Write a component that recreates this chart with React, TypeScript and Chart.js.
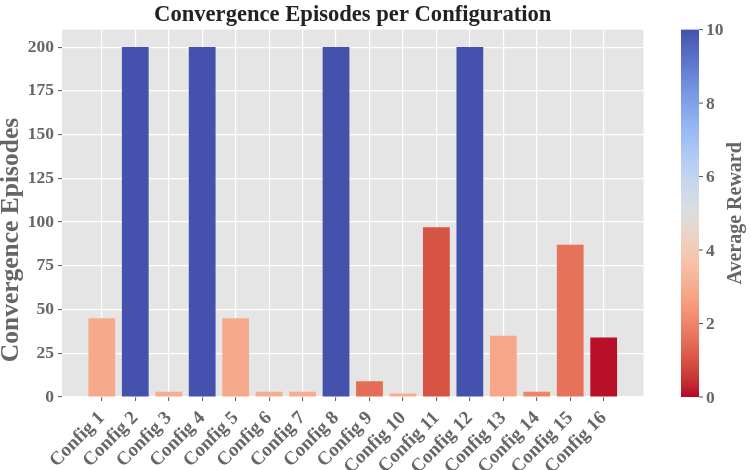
import React, { useEffect, useRef } from "react";
import { Chart, registerables } from "chart.js";

Chart.register(...registerables);

// ---- data ----
const configs = [
  "Config 1", "Config 2", "Config 3", "Config 4", "Config 5", "Config 6", "Config 7", "Config 8",
  "Config 9", "Config 10", "Config 11", "Config 12", "Config 13", "Config 14", "Config 15", "Config 16",
];
const convergenceEpisodes = [45, 200, 3, 200, 45, 3, 3, 200, 9, 2, 97, 200, 35, 3, 87, 34];
const averageRewards = [2.9, 10, 3.0, 10, 2.9, 3.0, 3.0, 10, 1.5, 3.0, 1.0, 10, 2.8, 2.0, 1.6, 0.1];
const yTicks = [0, 25, 50, 75, 100, 125, 150, 175, 200];
const colorbarTicks = [0, 2, 4, 6, 8, 10];
const rewardMin = 0;
const rewardMax = 10;

const TITLE = "Convergence Episodes per Configuration";
const Y_TITLE = "Convergence Episodes";
const CB_TITLE = "Average Reward";

// ---- style ----
const FONT = "'Liberation Serif', 'Times New Roman', serif";
const TEXT_GRAY = "#666666";

// coolwarm (Moreland) table, s from 0 (blue) to 1 (red)
const COOLWARM: number[][] = [
  [59, 76, 192], [68, 90, 204], [77, 104, 215], [87, 117, 225], [98, 130, 234], [108, 142, 241],
  [119, 154, 247], [130, 165, 251], [141, 176, 254], [152, 185, 255], [163, 194, 255], [174, 201, 253],
  [184, 208, 249], [194, 213, 244], [204, 217, 238], [213, 219, 230], [221, 221, 221], [229, 216, 209],
  [236, 211, 197], [241, 204, 184], [245, 196, 173], [247, 187, 160], [247, 177, 148], [247, 166, 135],
  [244, 154, 123], [241, 141, 111], [236, 127, 99], [229, 112, 88], [222, 96, 77], [213, 80, 66],
  [203, 62, 56], [192, 40, 47], [180, 4, 38],
];

function cmap(r: number): string {
  // reversed coolwarm: low reward -> red, high reward -> blue
  const s = Math.min(1, Math.max(0, 1 - (r - rewardMin) / (rewardMax - rewardMin)));
  const pos = s * (COOLWARM.length - 1);
  const i = Math.min(COOLWARM.length - 2, Math.floor(pos));
  const f = pos - i;
  const a = COOLWARM[i];
  const b = COOLWARM[i + 1];
  let c = [0, 1, 2].map((k) => a[k] + (b[k] - a[k]) * f);
  // muted blue side to match the reference rendering
  if (s < 0.5) {
    const w = (0.5 - s) / 0.5;
    const g = (c[0] + c[1] + c[2]) / 3;
    const d = 0.18 * w;
    c = [c[0] + (g - c[0]) * d, c[1] + (g - c[1]) * d, c[2] * (1 - 0.1 * w)];
  }
  return `rgb(${Math.round(c[0])},${Math.round(c[1])},${Math.round(c[2])})`;
}

const yTitlePlugin = {
  id: "yTitlePlugin",
  afterDraw(chart: any) {
    const ctx = chart.ctx as CanvasRenderingContext2D;
    ctx.save();
    ctx.translate(11, 240);
    ctx.rotate(-Math.PI / 2);
    ctx.textAlign = "center";
    ctx.textBaseline = "middle";
    ctx.fillStyle = TEXT_GRAY;
    ctx.font = `bold 25.5px ${FONT}`;
    ctx.fillText(Y_TITLE, 0, 0);
    ctx.restore();
  },
};

const colorbarPlugin = {
  id: "colorbarPlugin",
  afterDraw(chart: any) {
    const ctx = chart.ctx as CanvasRenderingContext2D;
    const { top, bottom } = chart.chartArea;
    const x0 = 681;
    const w = 18;
    ctx.save();
    const grad = ctx.createLinearGradient(0, bottom, 0, top);
    const n = 40;
    for (let i = 0; i <= n; i++) {
      const r = rewardMin + (i / n) * (rewardMax - rewardMin);
      grad.addColorStop(i / n, cmap(r));
    }
    ctx.fillStyle = grad;
    ctx.fillRect(x0, top, w, bottom - top);

    ctx.strokeStyle = "#555555";
    ctx.lineWidth = 1;
    ctx.fillStyle = TEXT_GRAY;
    ctx.font = `bold 17.5px ${FONT}`;
    ctx.textAlign = "left";
    ctx.textBaseline = "middle";
    colorbarTicks.forEach((t) => {
      const y = bottom - ((t - rewardMin) / (rewardMax - rewardMin)) * (bottom - top);
      ctx.beginPath();
      ctx.moveTo(x0 + w, y);
      ctx.lineTo(x0 + w + 4, y);
      ctx.stroke();
      ctx.fillText(String(t), x0 + w + 7, y + 1);
    });

    ctx.translate(736, (top + bottom) / 2);
    ctx.rotate(-Math.PI / 2);
    ctx.textAlign = "center";
    ctx.textBaseline = "middle";
    ctx.font = `bold 20px ${FONT}`;
    ctx.fillText(CB_TITLE, 0, 0);
    ctx.restore();
  },
};

export default function App() {
  const canvasRef = useRef<HTMLCanvasElement | null>(null);

  useEffect(() => {
    const canvas = canvasRef.current;
    if (!canvas) return;
    const chart = new Chart(canvas, {
      type: "bar",
      data: {
        datasets: [
          {
            data: convergenceEpisodes.map((v, i) => ({ x: i, y: v })),
            backgroundColor: averageRewards.map((r) => cmap(r)),
            borderWidth: 0,
            categoryPercentage: 1,
            barPercentage: 0.8,
          },
        ],
      },
      options: {
        animation: false,
        responsive: false,
        devicePixelRatio: 1,
        layout: { padding: { left: 0, right: 107.5, top: 0, bottom: 0 } },
        plugins: {
          legend: { display: false },
          tooltip: { enabled: false },
          title: {
            display: true,
            text: TITLE,
            fullSize: false,
            color: "#222222",
            font: { family: FONT, size: 22.6, weight: "bold", lineHeight: 1.2 },
            padding: { top: 1.5, bottom: 1 },
          },
        },
        scales: {
          x: {
            type: "linear",
            min: -1.19,
            max: 16.19,
            offset: false,
            grid: {
              offset: false,
              color: "#ffffff",
              lineWidth: 1.2,
              drawTicks: true,
              tickLength: 4,
              tickColor: "#555555",
              tickWidth: 1,
            },
            border: { display: false },
            afterBuildTicks: (axis: any) => {
              axis.ticks = configs.map((_, i) => ({ value: i }));
            },
            afterFit: (scale: any) => {
              scale.height = 73;
            },
            ticks: {
              autoSkip: false,
              minRotation: 45,
              maxRotation: 45,
              padding: 6,
              color: TEXT_GRAY,
              font: { family: FONT, size: 19, weight: "bold" },
              callback: (v: any) => configs[Math.round(Number(v))] ?? "",
            },
          },
          y: {
            min: 0,
            max: 210,
            grid: {
              color: "#ffffff",
              lineWidth: 1.2,
              drawTicks: true,
              tickLength: 4,
              tickColor: "#555555",
              tickWidth: 1,
            },
            border: { display: false },
            afterBuildTicks: (axis: any) => {
              axis.ticks = yTicks.map((v) => ({ value: v }));
            },
            afterFit: (scale: any) => {
              scale.width = 62;
            },
            ticks: {
              padding: 4,
              color: TEXT_GRAY,
              font: { family: FONT, size: 17.5, weight: "bold" },
            },
            title: { display: false, text: Y_TITLE },
          },
        },
      },
      plugins: [
        {
          id: "bgPlugin",
          beforeDraw(c: any) {
            const { left, top, width, height } = c.chartArea;
            const ctx = c.ctx;
            ctx.save();
            ctx.fillStyle = "#ffffff";
            ctx.fillRect(0, 0, c.width, c.height);
            ctx.fillStyle = "#e5e5e5";
            ctx.fillRect(left, top, width, height);
            ctx.restore();
          },
        },
        yTitlePlugin,
        colorbarPlugin,
      ],
    } as any);
    return () => chart.destroy();
  }, []);

  return (
    <div style={{ position: "fixed", left: 0, top: 0, width: 751, height: 470, background: "#ffffff" }}>
      <canvas ref={canvasRef} width={751} height={470} style={{ display: "block", width: 751, height: 470 }} />
    </div>
  );
}
